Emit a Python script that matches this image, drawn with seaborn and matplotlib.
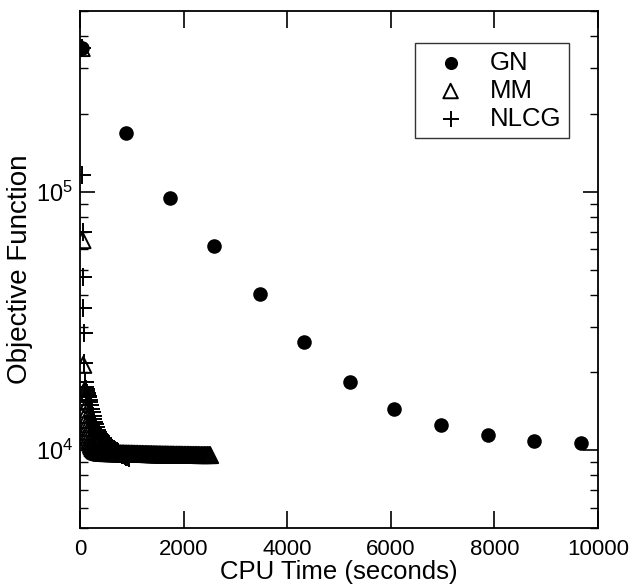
import matplotlib
matplotlib.use("Agg")
import matplotlib.pyplot as plt
import matplotlib.ticker as mticker
import seaborn as sns
import numpy as np
import pandas as pd

# CPU time (s) and objective function (in thousands)
gn_time = [30, 880, 1740, 2590, 3470, 4330, 5210, 6070, 6970, 7870, 8770, 9680]
gn_obj_k = [360, 169, 94.6, 61.7, 40.3, 26.3, 18.3, 14.4, 12.5, 11.5, 10.9, 10.7]

mm_time = [30, 45, 60, 70, 80, 90, 100, 110, 120, 130, 140, 150,
           165, 180, 195, 210, 225, 240, 260, 280, 300, 320, 345, 370,
           395, 420, 450, 480, 510, 540, 570, 600, 630, 660, 690, 720,
           750, 780, 810, 840, 870, 900, 930, 960, 990, 1020, 1050, 1080,
           1110, 1140, 1170, 1200, 1230, 1260, 1290, 1320, 1350, 1380, 1410,
           1440, 1470, 1500, 1530, 1560, 1590, 1620, 1650, 1680, 1710, 1740,
           1770, 1800, 1830, 1860, 1890, 1920, 1950, 1980, 2010, 2040, 2070,
           2100, 2130, 2160, 2190, 2220, 2250, 2280, 2310, 2340, 2370, 2400,
           2430, 2460, 2490, 2510]
mm_obj_k = [360, 65, 21.4, 16.8, 15.4, 14.4, 13.7, 13.1, 12.6, 12.2, 11.8, 11.5,
            11.2, 10.9, 10.7, 10.5, 10.35, 10.2, 10.1, 10.0, 9.95, 9.9, 9.86, 9.83,
            9.8, 9.78,
            9.76, 9.76, 9.75, 9.75, 9.75, 9.74, 9.74, 9.74, 9.73, 9.73,
            9.73, 9.72, 9.72, 9.72, 9.71, 9.71, 9.71, 9.70, 9.70, 9.70,
            9.69, 9.69, 9.69, 9.68, 9.68, 9.68, 9.67, 9.67, 9.67, 9.66,
            9.66, 9.66, 9.65, 9.65, 9.65, 9.64, 9.64, 9.64, 9.63, 9.63,
            9.63, 9.63, 9.62, 9.62, 9.62, 9.62, 9.61, 9.61, 9.61, 9.61,
            9.61, 9.60, 9.60, 9.60, 9.60, 9.60, 9.59, 9.59, 9.59, 9.59,
            9.59, 9.59, 9.58, 9.58, 9.58, 9.58, 9.58, 9.58, 9.58,
            9.58]

nlcg_time = [40, 45, 50, 55, 60, 65, 75, 90, 100, 110, 120, 130, 140, 150,
             160, 170, 180, 195, 210, 225, 240, 255, 270, 290, 310, 330, 350,
             370, 390, 410, 435, 460, 485, 510, 535, 560, 590, 620, 650, 680,
             710, 740, 770, 800, 830, 860, 890, 920, 945]
nlcg_obj_k = [360, 116, 70, 47, 35.5, 28.5, 21.8, 18.3, 17.6, 17.2, 16.9, 16.6,
              16.4, 16.2, 16.0, 15.7, 15.4, 14.9, 14.4, 14.0, 13.6, 13.2, 12.9,
              12.6, 12.3, 12.0, 11.8, 11.6, 11.45, 11.3, 11.1, 10.95, 10.8,
              10.65, 10.5, 10.4, 10.3, 10.2, 10.1, 10.0, 9.9, 9.8, 9.7, 9.62,
              9.55, 9.48, 9.42, 9.38, 9.35]

x_ticks = [0, 2000, 4000, 6000, 8000, 10000]

sns.set_style("ticks")
plt.rcParams.update({
    "font.family": ["Liberation Sans", "DejaVu Sans"],
    "mathtext.default": "regular",
    "text.color": "black",
    "axes.labelcolor": "black",
    "axes.edgecolor": "black",
    "xtick.color": "black",
    "ytick.color": "black",
    "axes.linewidth": 1.3,
    "xtick.direction": "in",
    "ytick.direction": "in",
    "xtick.top": True,
    "ytick.right": True,
    "xtick.major.size": 12,
    "ytick.major.size": 11,
    "ytick.minor.size": 6,
    "xtick.major.width": 1.2,
    "ytick.major.width": 1.2,
    "ytick.minor.width": 1.0,
    "xtick.major.pad": 8,
    "ytick.major.pad": 5,
})

fig = plt.figure(figsize=(6.36, 5.87), dpi=100)
ax = fig.add_axes([0.126, 0.1005, 0.814, 0.8805])

gn = pd.DataFrame({"t": gn_time, "f": np.array(gn_obj_k) * 1e3})
mm = pd.DataFrame({"t": mm_time, "f": np.array(mm_obj_k) * 1e3})
nlcg = pd.DataFrame({"t": nlcg_time, "f": np.array(nlcg_obj_k) * 1e3})

sns.scatterplot(data=gn, x="t", y="f", marker="o", s=110, color="black",
                edgecolor="black", linewidth=0, label="GN", ax=ax, zorder=3)
sns.scatterplot(data=mm, x="t", y="f", marker="^", s=135, facecolors="none",
                edgecolor="black", linewidth=1.4, label="MM", ax=ax, zorder=3)
sns.scatterplot(data=nlcg, x="t", y="f", marker="+", s=160, color="black",
                linewidth=1.4, label="NLCG", ax=ax, zorder=3)

ax.set_yscale("log")
ax.set_xlim(0, 10000)
ax.set_ylim(5000, 5e5)
ax.set_xticks(x_ticks)
ax.xaxis.set_minor_locator(mticker.NullLocator())
ax.yaxis.set_major_locator(mticker.LogLocator(base=10, numticks=10))
ax.yaxis.set_minor_locator(mticker.LogLocator(base=10, subs=range(2, 10), numticks=10))
ax.yaxis.set_minor_formatter(mticker.NullFormatter())
ax.tick_params(axis="x", labelsize=16)
ax.tick_params(axis="y", labelsize=17)

ax.set_xlabel("CPU Time (seconds)", fontsize=18.5, labelpad=0)
ax.set_ylabel("Objective Function", fontsize=20, labelpad=2)

leg = ax.legend(loc="upper right", bbox_to_anchor=(0.944, 0.938),
                borderaxespad=0, fontsize=18.5, frameon=True, fancybox=False,
                handlelength=2.2, handletextpad=0.42, borderpad=0.3,
                labelspacing=0.15, markerscale=0.9)
leg.get_frame().set_edgecolor("black")
leg.get_frame().set_linewidth(1.0)

fig.savefig("out.png", dpi=100)
